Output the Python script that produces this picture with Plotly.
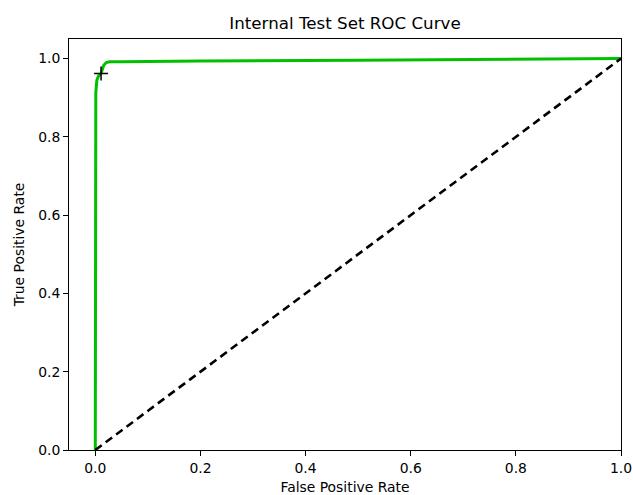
import plotly.graph_objects as go

fpr = [0.0, 0.0, 0.001, 0.003, 0.006, 0.011, 0.016, 0.021, 0.027, 0.05, 0.2, 0.5, 0.8, 1.0]
tpr = [0.0, 0.911, 0.913, 0.945, 0.955, 0.962, 0.983, 0.99, 0.992, 0.992, 0.994, 0.996, 0.998, 1.0]
chance_x = [0.0, 1.0]
chance_y = [0.0, 1.0]
marker_x = [0.011]
marker_y = [0.962]
x_ticks = [0.0, 0.2, 0.4, 0.6, 0.8, 1.0]
y_ticks = [0.0, 0.2, 0.4, 0.6, 0.8, 1.0]

fig = go.Figure()
fig.add_trace(go.Scatter(x=fpr, y=tpr, mode="lines",
                         line=dict(color="#00c000", width=3), showlegend=False))
fig.add_trace(go.Scatter(x=chance_x, y=chance_y, mode="lines",
                         line=dict(color="black", width=2.6, dash="8px,5px"), showlegend=False))
fig.add_trace(go.Scatter(x=marker_x, y=marker_y, mode="markers",
                         marker=dict(symbol="cross-thin", size=10, line=dict(color="black", width=1.5)),
                         showlegend=False))

W, H = 633, 495
L, R, T, B = 69, 12, 39, 45
font = "DejaVu Sans"
fig.update_layout(
    width=W, height=H,
    margin=dict(l=L, r=R, t=T, b=B, autoexpand=False),
    plot_bgcolor="white", paper_bgcolor="white",
    font=dict(family=font, size=13.9, color="black"),
    title=dict(text="Internal Test Set ROC Curve", x=(L + (W - R)) / 2 / W, xanchor="center",
               y=1 - 23.5 / H, yanchor="middle", font=dict(size=16.7)),
)
axis_common = dict(showgrid=False, zeroline=False, showline=True, linecolor="black",
                   linewidth=1, mirror=True, ticks="outside", ticklen=5, tickwidth=1,
                   tickcolor="black", tickformat=".1f", automargin=False)
fig.update_xaxes(range=[-0.05, 1.0], tickvals=x_ticks,
                 title=dict(text="False Positive Rate", standoff=8, font=dict(size=13.9)),
                 **axis_common)
fig.update_yaxes(range=[0.0, 1.05], tickvals=y_ticks,
                 title=dict(text="True Positive Rate", standoff=10, font=dict(size=13.9)),
                 **axis_common)

fig.write_html(
    "out.html",
    config={"displayModeBar": False},
    post_script="document.body.style.margin='0';document.body.style.overflow='hidden';",
)
